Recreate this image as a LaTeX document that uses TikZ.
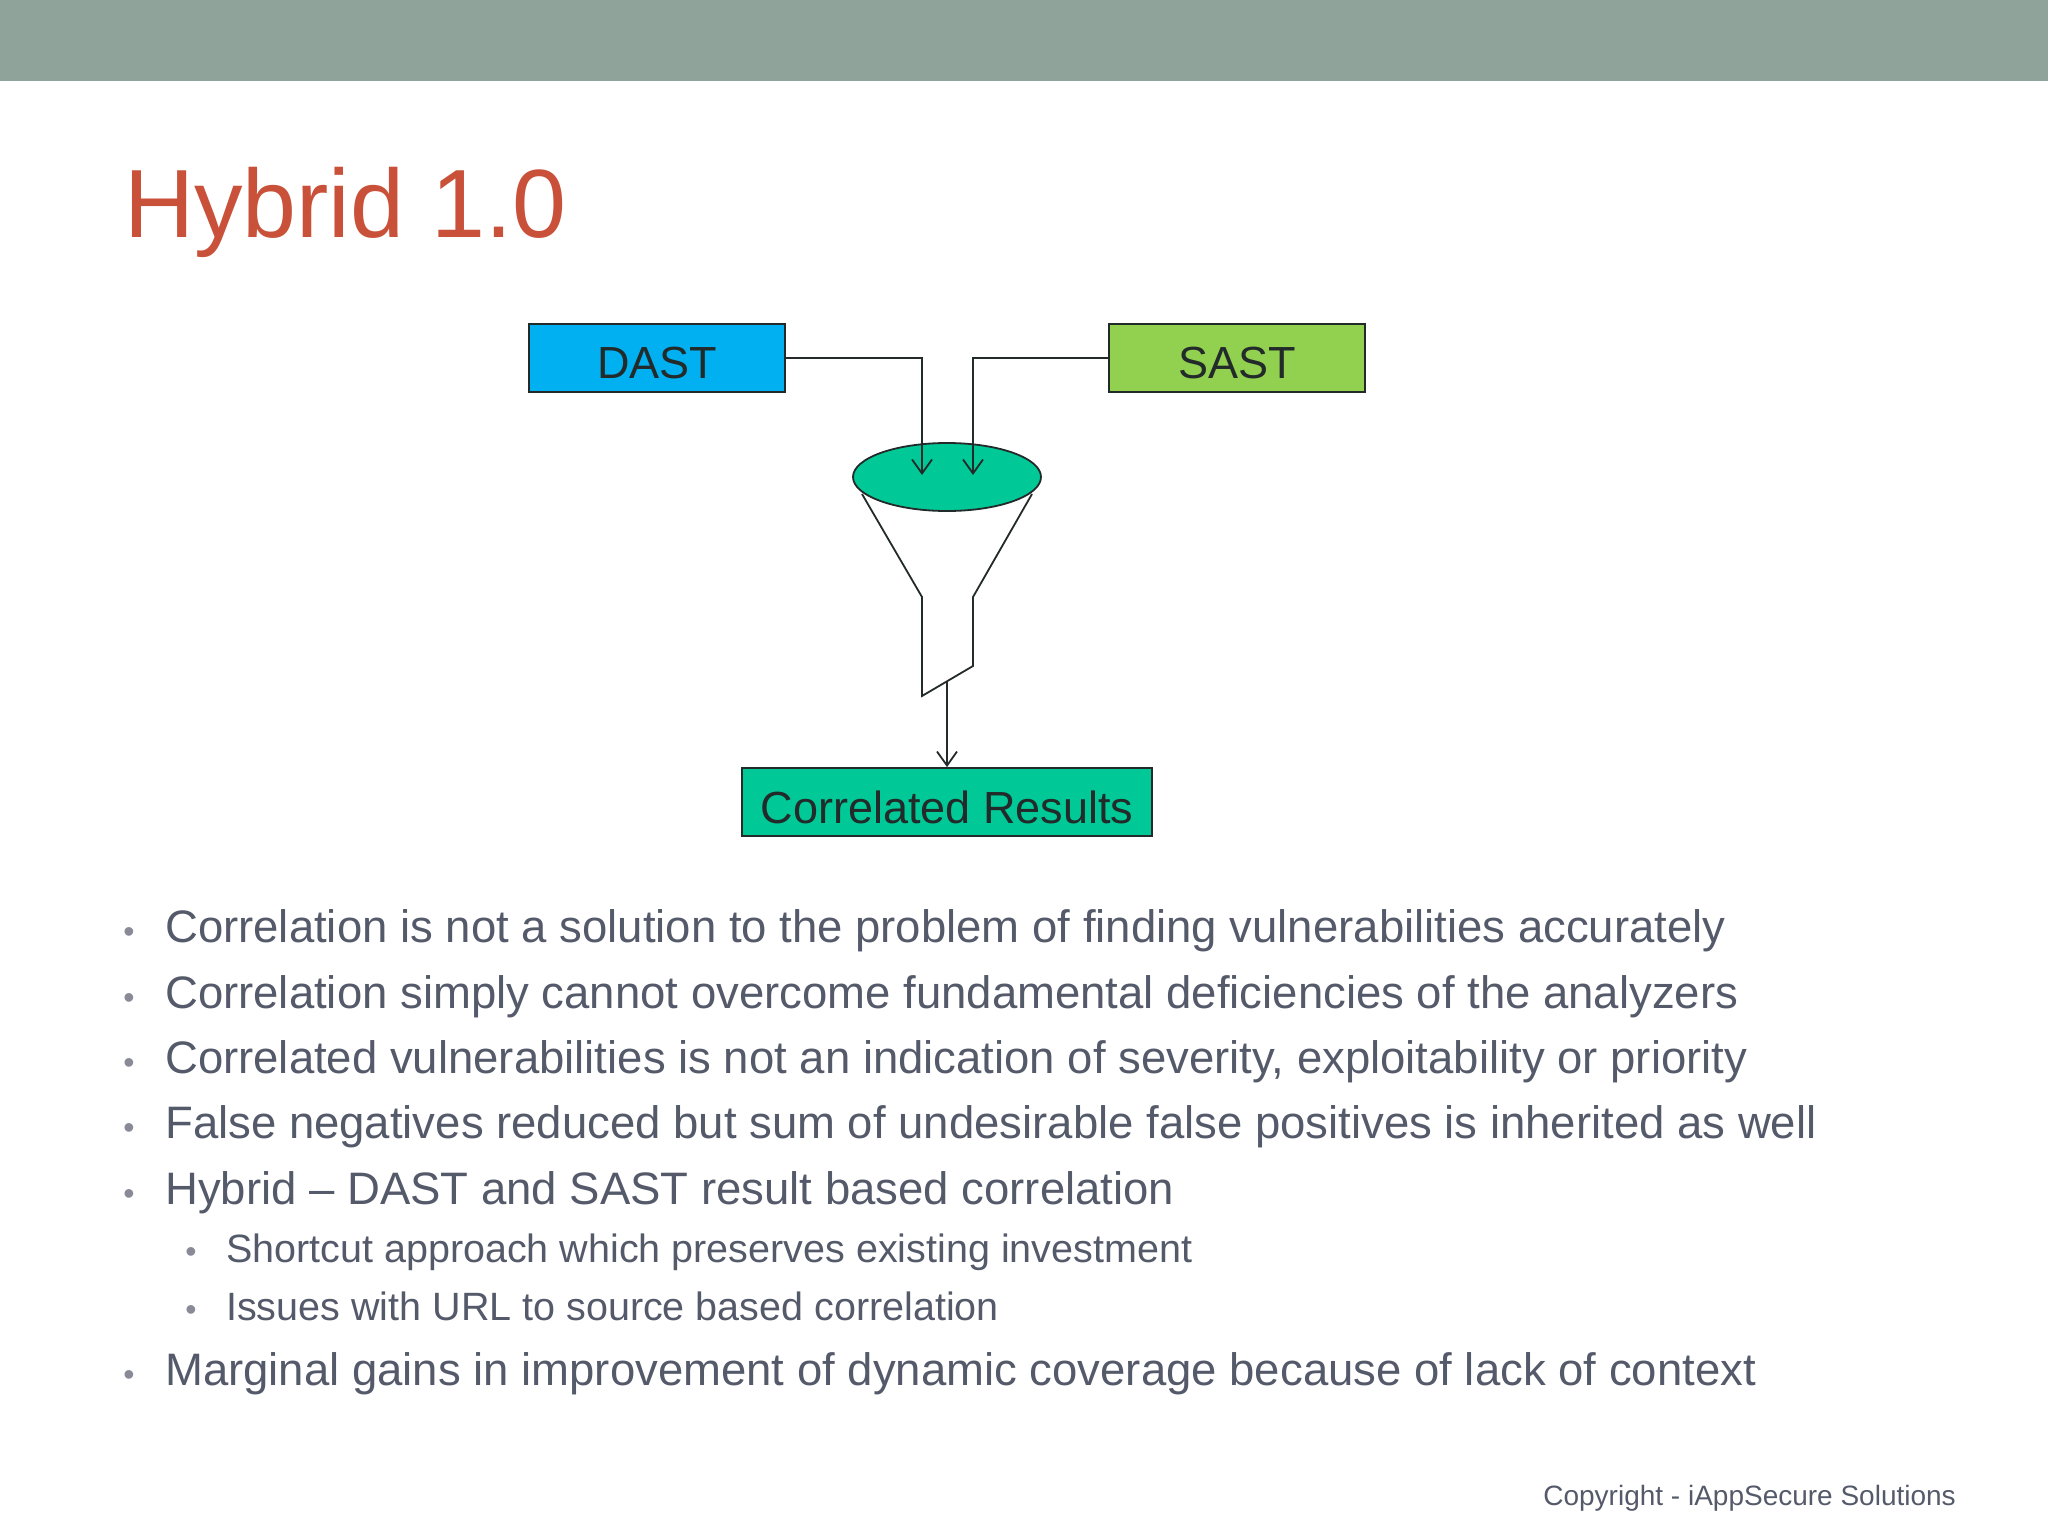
\documentclass[tikz,border=0pt]{standalone}
\usepackage{fontspec}
\setmainfont{Liberation Sans}
\usetikzlibrary{arrows.meta}
\definecolor{barc}{HTML}{8FA39A}
\definecolor{titlec}{HTML}{C9513A}
\definecolor{dastc}{HTML}{00B0F0}
\definecolor{sastc}{HTML}{92D050}
\definecolor{corc}{HTML}{00C896}
\definecolor{txtc}{HTML}{555A6A}
\definecolor{linec}{HTML}{222A2A}
\newcommand{\lowtext}[1]{\raisebox{-5pt}[\height][\depth]{#1}}
\tikzset{
  box/.style={draw=linec,line width=1.8pt,minimum width=256pt,minimum height=68pt,inner sep=0pt,font=\fontsize{45}{50}\selectfont,text=linec},
  conn/.style={draw=linec,line width=1.8pt,-{Straight Barb[length=14pt,width=20pt,line width=1.8pt]}},
  bul/.style={anchor=base west,text=txtc,inner sep=0pt,font=\fontsize{45.5}{52}\selectfont},
  sbul/.style={anchor=base west,text=txtc,inner sep=0pt,font=\fontsize{39.5}{46}\selectfont},
  dot/.style={anchor=base,text=txtc!70,inner sep=0pt,font=\fontsize{32}{36}\selectfont}
}
\begin{document}
\begin{tikzpicture}[x=1pt,y=-1pt]
\useasboundingbox (0,0) rectangle (2048,1536);
\fill[barc] (0,0) rectangle (2048,81);
\node[anchor=base west,inner sep=0pt,text=titlec,font=\fontsize{97}{110}\selectfont] (title) at (124,237) {Hybrid 1.0};
\node[box,fill=dastc] (dast) at (657,358) {\lowtext{DAST}};
\node[box,fill=sastc] (sast) at (1237,358) {\lowtext{SAST}};
\node[box,fill=corc,minimum width=410pt] (cor) at (947,802) {\lowtext{Correlated Results}};
\draw[linec,line width=1.8pt,fill=white] (862,494) -- (922,597) -- (922,696) -- (973,666) -- (973,597) -- (1032,494);
\draw[linec,line width=1.8pt,fill=corc] (947,477) ellipse [x radius=94, y radius=34];
\coordinate (dtip) at (922,475);
\coordinate (stip) at (973,475);
\coordinate (fout) at (947,681);
\draw[conn] (dast.east) -| (dtip);
\draw[conn] (sast.west) -| (stip);
\draw[conn] (fout) -- (cor.north);
\node[dot] (d1) at (129,942) {•};
\node[bul] (b1) at (165,942) {Correlation is not a solution to the problem of finding vulnerabilities accurately};
\node[dot] (d2) at (129,1008) {•};
\node[bul] (b2) at (165,1008) {Correlation simply cannot overcome fundamental deficiencies of the analyzers};
\node[dot] (d3) at (129,1073) {•};
\node[bul] (b3) at (165,1073) {Correlated vulnerabilities is not an indication of severity, exploitability or priority};
\node[dot] (d4) at (129,1138) {•};
\node[bul] (b4) at (165,1138) {False negatives reduced but sum of undesirable false positives is inherited as well};
\node[dot] (d5) at (129,1204) {•};
\node[bul] (b5) at (165,1204) {Hybrid – DAST and SAST result based correlation};
\node[dot] (s1d) at (191,1262) {•};
\node[sbul] (s1) at (226,1262) {Shortcut approach which preserves existing investment};
\node[dot] (s2d) at (191,1320) {•};
\node[sbul] (s2) at (226,1320) {Issues with URL to source based correlation};
\node[dot] (d7) at (129,1385) {•};
\node[bul] (b7) at (165,1385) {Marginal gains in improvement of dynamic coverage because of lack of context};
\node[anchor=base east,inner sep=0pt,text=txtc,font=\fontsize{28}{32}\selectfont] (copy) at (1956,1505) {Copyright - iAppSecure Solutions};
\end{tikzpicture}
\end{document}
